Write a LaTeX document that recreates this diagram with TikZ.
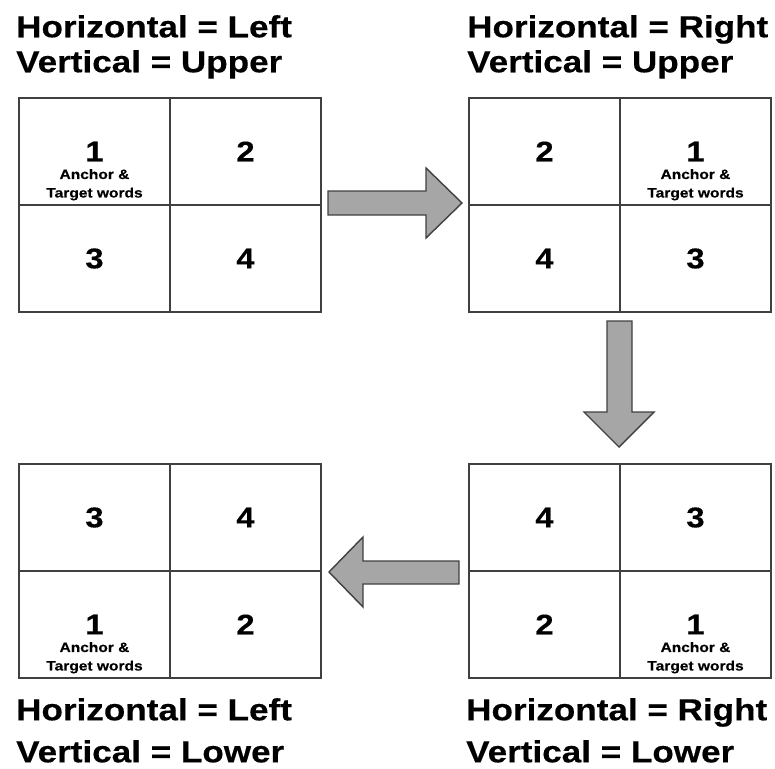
\documentclass[tikz,border=0pt]{standalone}
\usepackage{fontspec}
\setmainfont{Liberation Sans}[FakeStretch=1.15, BoldFeatures={FakeBold=0.4}]
\usepackage{tikz}
\usetikzlibrary{positioning}
\usepackage{xcolor}
\definecolor{gridline}{HTML}{404040}
\definecolor{arrowgray}{HTML}{A6A6A6}

\begin{document}
\begin{tikzpicture}[x=1pt, y=-1pt,
    cell/.style={draw=gridline, line width=2pt, minimum width=151pt, minimum height=107pt, anchor=north west, inner sep=0pt, font=\bfseries\fontsize{28.5}{28.5}\selectfont},
    tag/.style={inner sep=0pt, align=center, font=\bfseries\fontsize{13.5}{18.5}\selectfont},
    title/.style={inner sep=0pt, align=left, anchor=north west, font=\bfseries\fontsize{30.5}{35}\selectfont},
    blockarrow/.style={draw=gridline, fill=arrowgray, line width=1.4pt, line join=miter}]
    \useasboundingbox (0,0) rectangle (775,768);

    % the four quadrant grids
    \foreach \g/\gx/\gy/\a/\b/\c/\d in {ul/18/97/1/2/3/4, ur/468/97/2/1/4/3, ll/18/463/3/4/1/2, lr/468/463/4/3/2/1}{
        \node[cell] (\g-a) at (\gx,\gy) {\a};
        \node[cell] (\g-b) at (\gx+151,\gy) {\b};
        \node[cell] (\g-c) at (\gx,\gy+107) {\c};
        \node[cell] (\g-d) at (\gx+151,\gy+107) {\d};
    }

    % anchor cells
    \node[tag, below=17.5pt of ul-a.center] (ul-tag) {Anchor \&\\Target words};
    \node[tag, below=17.5pt of ur-b.center] (ur-tag) {Anchor \&\\Target words};
    \node[tag, below=17.5pt of ll-c.center] (ll-tag) {Anchor \&\\Target words};
    \node[tag, below=17.5pt of lr-d.center] (lr-tag) {Anchor \&\\Target words};

    % titles
    \node[title] (ul-title) at (16,15) {Horizontal = Left\\Vertical = Upper};
    \node[title] (ur-title) at (467,15) {Horizontal = Right\\Vertical = Upper};
    \node[title] (ll-title) at (16,698) {Horizontal = Left\\[7pt]Vertical = Lower};
    \node[title] (lr-title) at (466,698) {Horizontal = Right\\[7pt]Vertical = Lower};

    % block arrows
    \draw[blockarrow] (328,191) -- (426,191) -- (426,168) -- (462,203) -- (426,238) -- (426,215) -- (328,215) -- cycle;
    \draw[blockarrow] (607,321) -- (632,321) -- (632,412) -- (654,412) -- (619,447) -- (584,412) -- (607,412) -- cycle;
    \draw[blockarrow] (459,561) -- (363,561) -- (363,537) -- (329,572) -- (363,607) -- (363,584) -- (459,584) -- cycle;
\end{tikzpicture}
\end{document}
